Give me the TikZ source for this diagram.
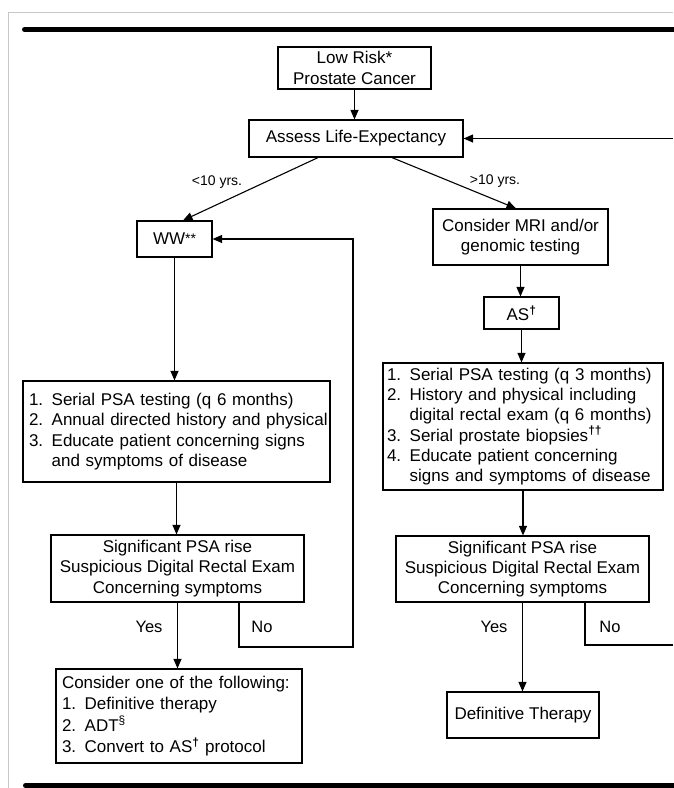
\documentclass[tikz,border=0pt]{standalone}
\usepackage{fontspec}
\setmainfont{Liberation Sans}
\usetikzlibrary{arrows.meta}
\newcommand\myfs{\fontsize{17}{20.3}\selectfont}
\newcommand\lblfs{\fontsize{14}{16}\selectfont}
\newcommand\ynfs{\fontsize{16.5}{18}\selectfont}
\newcommand\mydag{\textsuperscript{\textbf{†}}}
\begin{document}
\begin{tikzpicture}[x=1pt,y=-1pt,
  box/.style={draw, line width=1.2pt, inner sep=0pt, font=\myfs, align=center},
  listbox/.style={draw, line width=1.2pt, inner ysep=0pt, font=\myfs, align=left},
  arr/.style={line width=1.1pt, -{Triangle[length=9.5pt,width=8pt]}},
  ln/.style={line width=1.1pt},
  lbl/.style={font=\lblfs, inner sep=0pt},
  yn/.style={font=\ynfs, inner sep=0pt}]
\useasboundingbox (0,0) rectangle (673,788);
% frame and bars
\draw[black!22, line width=1pt] (8,788) -- (8,12) -- (673,12);
\draw[line width=5pt, line cap=round] (24.5,29.5) -- (680,29.5);
\draw[line width=5pt, line cap=round] (25.5,785.5) -- (680,785.5);
% nodes
\node[box, minimum width=153pt, minimum height=42pt] (low) at (354.5,68) {Low Risk*\\Prostate Cancer};
\node[box, minimum width=214pt, minimum height=37pt] (assess) at (356,138.5) {Assess Life-Expectancy};
\node[box, minimum width=75pt, minimum height=36pt] (ww) at (174.5,239) {WW\raisebox{1.5pt}{\fontsize{14}{14}\selectfont **}};
\node[box, minimum width=175pt, minimum height=56pt] (mri) at (520.5,237) {Consider MRI and/or\\genomic testing};
\node[box, minimum width=75pt, minimum height=32pt] (as) at (521.5,313) {AS\mydag};
\node[listbox, inner xsep=6pt, text width=295pt, minimum height=101pt] (llist) at (176.5,431.5)
  {\mbox{1. Serial PSA testing (q 6 months)}\\\mbox{2. Annual directed history and physical}\\\mbox{3. Educate patient concerning signs}\\\mbox{\phantom{3. }and symptoms of disease}};
\node[listbox, inner xsep=4pt, text width=272pt, minimum height=127pt] (rlist) at (523,426.5)
  {\mbox{1. Serial PSA testing (q 3 months)}\\\mbox{2. History and physical including}\\\mbox{\phantom{2. }digital rectal exam (q 6 months)}\\\mbox{3. Serial prostate biopsies\textsuperscript{\textbf{††}}}\\\mbox{4. Educate patient concerning}\\\mbox{\phantom{4. }signs and symptoms of disease}};
\node[box, minimum width=253pt, minimum height=67pt] (lsig) at (177.5,568.5) {Significant PSA rise\\Suspicious Digital Rectal Exam\\Concerning symptoms};
\node[box, minimum width=253pt, minimum height=66pt] (rsig) at (522.5,569) {Significant PSA rise\\Suspicious Digital Rectal Exam\\Concerning symptoms};
\node[listbox, inner xsep=6pt, text width=234pt, minimum height=94pt, font=\fontsize{17}{21.5}\selectfont] (lcons) at (179,716)
  {\mbox{Consider one of the following:}\\\mbox{1. Definitive therapy}\\\mbox{2. ADT\textsuperscript{§}}\\\mbox{3. Convert to AS\mydag{} protocol}};
\node[box, minimum width=152pt, minimum height=46pt] (def) at (523,715) {Definitive Therapy};
% free ends
\coordinate (fbR) at (673,138.5);
\coordinate (noL) at (353,647);
\coordinate (noR) at (673,645);
% connectors
\draw[arr] (low.south) -- (low.south |- assess.north);
\draw[arr] (fbR) -- (assess.east);
\draw[arr] ([xshift=-38pt]assess.south) -- ([xshift=8.5pt]ww.north);
\draw[arr] ([xshift=36pt]assess.south) -- ([xshift=-4.5pt]mri.north);
\draw[arr] (ww.south) -- (ww.south |- llist.north);
\draw[arr] (mri.south) -- (mri.south |- as.north);
\draw[arr] (as.south) -- (as.south |- rlist.north);
\draw[arr] (llist.south) -- (llist.south |- lsig.north);
\draw[arr] (rlist.south) -- (rlist.south |- rsig.north);
\draw[arr] (lsig.south) -- (lsig.south |- lcons.north);
\draw[arr] (rsig.south) -- (rsig.south |- def.north);
\draw[arr] ([xshift=61.5pt]lsig.south) |- (noL) |- (ww.east);
\draw[ln] ([xshift=62.5pt]rsig.south) |- (noR);
% labels
\node[lbl] (lt10) at (217,182) {<10 yrs.};
\node[lbl] (gt10) at (495,181) {>10 yrs.};
\node[yn] (yesL) at (149,627) {Yes};
\node[yn] (noLl) at (262,627) {No};
\node[yn] (yesR) at (494,627) {Yes};
\node[yn] (noRl) at (610,627) {No};
\end{tikzpicture}
\end{document}
